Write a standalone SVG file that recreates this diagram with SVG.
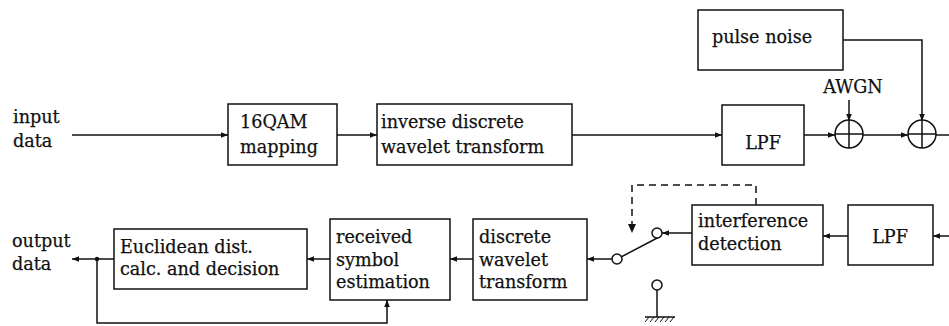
<svg xmlns="http://www.w3.org/2000/svg" width="949" height="326" viewBox="0 0 949 326">
<style>
text{font-family:"DejaVu Serif","Liberation Serif",serif;font-size:17.6px;fill:#111;stroke:#111;stroke-width:0.25}
.box{fill:#fff;stroke:#111;stroke-width:1.5}
.ln{fill:none;stroke:#111;stroke-width:1.5}
.dash{fill:none;stroke:#111;stroke-width:1.5;stroke-dasharray:7,5}
.c{fill:#fff;stroke:#111;stroke-width:1.5}
</style>
<defs>
<marker id="ar" viewBox="0 0 10 10" refX="10" refY="5" markerWidth="7" markerHeight="7" markerUnits="userSpaceOnUse" orient="auto"><path d="M0,1 L10,5 L0,9 z" fill="#111"/></marker>
</defs>
<rect width="949" height="326" fill="#fff"/>
<g id="connectors">
<line class="ln" x1="72" y1="135" x2="228" y2="135" marker-end="url(#ar)"/>
<line class="ln" x1="337" y1="135" x2="377" y2="135" marker-end="url(#ar)"/>
<line class="ln" x1="572" y1="135" x2="722" y2="135" marker-end="url(#ar)"/>
<line class="ln" x1="804" y1="135" x2="835" y2="135" marker-end="url(#ar)"/>
<line class="ln" x1="863" y1="135" x2="908" y2="135" marker-end="url(#ar)"/>
<line class="ln" x1="936" y1="135" x2="949" y2="135"/>
<line class="ln" x1="849" y1="100" x2="849" y2="121" marker-end="url(#ar)"/>
<polyline class="ln" points="843,40 922,40 922,121" marker-end="url(#ar)"/>
<line class="ln" x1="949" y1="236" x2="933" y2="236" marker-end="url(#ar)"/>
<line class="ln" x1="848" y1="236" x2="823" y2="236" marker-end="url(#ar)"/>
<line class="ln" x1="692" y1="233" x2="662" y2="233" marker-end="url(#ar)"/>
<polyline class="dash" points="756,205 756,185 632,185 632,226"/>
<path d="M628,224 L632,233 L636,224 z" fill="#111"/>
<line class="ln" x1="621" y1="257" x2="661" y2="236"/>
<line class="ln" x1="612" y1="259" x2="587" y2="259" marker-end="url(#ar)"/>
<line class="ln" x1="473" y1="259" x2="450" y2="259" marker-end="url(#ar)"/>
<line class="ln" x1="330" y1="259" x2="307" y2="259" marker-end="url(#ar)"/>
<line class="ln" x1="114" y1="259" x2="72" y2="259" marker-end="url(#ar)"/>
<circle cx="97" cy="259" r="2.2" fill="#111"/>
<polyline class="ln" points="97,259 97,323 387,323 387,300" marker-end="url(#ar)"/>
<line class="ln" x1="657" y1="290" x2="657" y2="317"/>
<line class="ln" x1="645" y1="317" x2="675" y2="317"/>
<path class="ln" d="M649,317 l-4,5 M654,317 l-4,5 M659,317 l-4,5 M664,317 l-4,5 M669,317 l-4,5 M674,317 l-4,5" style="stroke-width:1"/>
</g>
<g id="input-label"><text x="13" y="123">input</text><text x="13" y="147">data</text></g>
<g id="qam"><rect class="box" x="228" y="104" width="109" height="61"/><text x="240" y="128">16QAM</text><text x="240" y="153">mapping</text></g>
<g id="idwt"><rect class="box" x="377" y="104" width="195" height="61"/><text x="381" y="128">inverse discrete</text><text x="381" y="153">wavelet transform</text></g>
<g id="lpf1"><rect class="box" x="722" y="105" width="82" height="60"/><text x="763" y="149" text-anchor="middle">LPF</text></g>
<g id="pulse"><rect class="box" x="698" y="10" width="145" height="60"/><text x="762" y="43" text-anchor="middle">pulse noise</text></g>
<g id="awgn-label"><text x="853" y="93" text-anchor="middle">AWGN</text></g>
<g id="sum1"><circle class="c" cx="849" cy="134" r="14"/><path class="ln" d="M835,134 H863 M849,120 V148"/></g>
<g id="sum2"><circle class="c" cx="922" cy="134" r="14"/><path class="ln" d="M908,134 H936 M922,120 V148"/></g>
<g id="lpf2"><rect class="box" x="848" y="205" width="85" height="60"/><text x="890" y="243" text-anchor="middle">LPF</text></g>
<g id="intdet"><rect class="box" x="692" y="205" width="131" height="60"/><text x="698" y="227">interference</text><text x="698" y="250">detection</text></g>
<g id="switch"><circle class="c" cx="617" cy="259" r="5"/><circle class="c" cx="657" cy="233" r="5"/><circle class="c" cx="657" cy="285" r="5"/></g>
<g id="dwt"><rect class="box" x="473" y="219" width="114" height="81"/><text x="479" y="243">discrete</text><text x="479" y="266">wavelet</text><text x="479" y="288">transform</text></g>
<g id="rse"><rect class="box" x="330" y="219" width="120" height="81"/><text x="336" y="243">received</text><text x="336" y="266">symbol</text><text x="336" y="288">estimation</text></g>
<g id="euclid"><rect class="box" x="114" y="229" width="193" height="60"/><text x="120" y="253">Euclidean dist.</text><text x="120" y="275">calc. and decision</text></g>
<g id="output-label"><text x="12" y="247">output</text><text x="12" y="270">data</text></g>
</svg>
